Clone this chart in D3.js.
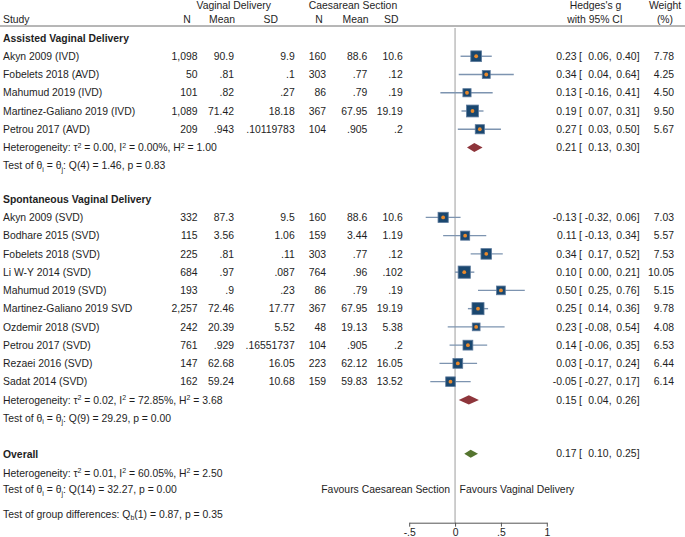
<!DOCTYPE html>
<html><head><meta charset="utf-8">
<script src="https://cdn.jsdelivr.net/npm/d3@7"></script>
<style>
body{margin:0;background:#fff}
svg{display:block}
text{font-family:"Liberation Sans",Arial,Helvetica,sans-serif;font-size:10.4px;fill:#1e1e1e}
</style>
</head><body><svg id="c" width="685" height="537"></svg>
<script>
// ---------------- DATA ----------------
const groupNames = ["Assisted Vaginal Delivery", "Spontaneous Vaginal Delivery"];
const groupSizes = [5, 10];
const studies = [
  "Akyn 2009 (IVD)", "Fobelets 2018 (AVD)", "Mahumud 2019 (IVD)", "Martinez-Galiano 2019 (IVD)", "Petrou 2017 (AVD)",
  "Akyn 2009 (SVD)", "Bodhare 2015 (SVD)", "Fobelets 2018 (SVD)", "Li W-Y 2014 (SVD)", "Mahumud 2019 (SVD)",
  "Martinez-Galiano 2019 SVD", "Ozdemir 2018 (SVD)", "Petrou 2017 (SVD)", "Rezaei 2016 (SVD)", "Sadat 2014 (SVD)"
];
const vagN    = [1098, 50, 101, 1089, 209, 332, 115, 225, 684, 193, 2257, 242, 761, 147, 162];
const vagMean = ["90.9", ".81", ".82", "71.42", ".943", "87.3", "3.56", ".81", ".97", ".9", "72.46", "20.39", ".929", "62.68", "59.24"];
const vagSD   = ["9.9", ".1", ".27", "18.18", ".10119783", "9.5", "1.06", ".11", ".087", ".23", "17.77", "5.52", ".16551737", "16.05", "10.68"];
const csN     = [160, 303, 86, 367, 104, 160, 159, 303, 764, 86, 367, 48, 104, 223, 159];
const csMean  = ["88.6", ".77", ".79", "67.95", ".905", "88.6", "3.44", ".77", ".96", ".79", "67.95", "19.13", ".905", "62.12", "59.83"];
const csSD    = ["10.6", ".12", ".19", "19.19", ".2", "10.6", "1.19", ".12", ".102", ".19", "19.19", "5.38", ".2", "16.05", "13.52"];
const hedgesG = [0.23, 0.34, 0.13, 0.19, 0.27, -0.13, 0.11, 0.34, 0.10, 0.50, 0.25, 0.23, 0.14, 0.03, -0.05];
const ciLow   = [0.06, 0.04, -0.16, 0.07, 0.03, -0.32, -0.13, 0.17, 0.00, 0.25, 0.14, -0.08, -0.06, -0.17, -0.27];
const ciHigh  = [0.40, 0.64, 0.41, 0.31, 0.50, 0.06, 0.34, 0.52, 0.21, 0.76, 0.36, 0.54, 0.35, 0.24, 0.17];
const weights = [7.78, 4.25, 4.50, 9.50, 5.67, 7.03, 5.57, 7.53, 10.05, 5.15, 9.78, 4.08, 6.53, 6.44, 6.14];

const groupG   = [0.21, 0.15];
const groupLow = [0.13, 0.04];
const groupHigh= [0.30, 0.26];
const groupTau2= ["0.00", "0.02"];
const groupI2  = ["0.00", "72.85"];
const groupH2  = ["1.00", "3.68"];
const groupDf  = [4, 9];
const groupQ   = ["1.46", "29.29"];
const groupP   = ["0.83", "0.00"];

const overallG = 0.17, overallLow = 0.10, overallHigh = 0.25;
const overallTau2 = "0.01", overallI2 = "60.05", overallH2 = "2.50";
const overallDf = 14, overallQ = "32.27", overallP = "0.00";
const groupDiffDf = 1, groupDiffQ = "0.87", groupDiffP = "0.35";

const tickValues = [-0.5, 0, 0.5, 1];
const tickLabels = ["-.5", "0", ".5", "1"];
const favoursLeft = "Favours Caesarean Section";
const favoursRight = "Favours Vaginal Delivery";

// ---------------- LAYOUT ----------------
const svg = d3.select("#c");
const colors = {navy:"#1a476f", ci:"#7d94b0", dot:"#e8892b", maroon:"#8e353b", green:"#55752f", zero:"#c9c9c9", text:"#1e1e1e"};
const x = d3.scaleLinear().domain([-0.5, 1]).range([409.2, 546.8]);
const y = d3.scaleLinear().domain([0, 1]).range([38, 56.25]);
const axisY = 522.7;
const base = 3.7; // baseline offset from row centre
const side = d3.scaleSqrt().domain([0, d3.max(weights)]).range([0, 3.85 * Math.sqrt(d3.max(weights))]);

const fmt2 = v => (v < 0 ? "-" : "") + Math.abs(v).toFixed(2);
const fmtN = d3.format(",");

// row indices
const headerRow = [], studyRow = [], sumRow = [], testRow = [];
let cursor = 0;
groupSizes.forEach(n => {
  headerRow.push(cursor); cursor += 1;
  for (let k = 0; k < n; k++) { studyRow.push(cursor); cursor += 1; }
  sumRow.push(cursor); cursor += 1;
  testRow.push(cursor); cursor += 1.83;
});
const overallRow = testRow[1] + 2;
const overallHetRow = overallRow + 1;
const overallTestRow = overallRow + 1.92;
const groupDiffRow = overallRow + 3.27;

function txt(xp, yc, s, anchor, weight) {
  return svg.append("text").attr("x", xp).attr("y", yc + base)
    .attr("text-anchor", anchor || "start")
    .style("font-weight", weight || "normal").text(s);
}
function rich(xp, yc, parts) {
  const t = svg.append("text").attr("x", xp).attr("y", yc + base);
  let off = 0;
  parts.forEach(([s, mode]) => {
    const target = mode === "sup" ? -3.6 : mode === "sub" ? 2.2 : 0;
    const sp = t.append("tspan").attr("dy", target - off).text(s);
    if (mode) sp.style("font-size", "7px");
    off = target;
  });
  return t;
}

// header
txt(233.7, 4.8, "Vaginal Delivery", "middle");
txt(353, 4.8, "Caesarean Section", "middle");
txt(595.5, 4.8, "Hedges's g", "middle");
txt(665, 4.8, "Weight", "middle");
txt(3, 19.3, "Study");
txt(187, 19.3, "N", "middle");
txt(222, 19.3, "Mean", "middle");
txt(270.7, 19.3, "SD", "middle");
txt(319, 19.3, "N", "middle");
txt(355.5, 19.3, "Mean", "middle");
txt(391.3, 19.3, "SD", "middle");
txt(595, 19.3, "with 95% CI", "middle");
txt(665, 19.3, "(%)", "middle");
svg.append("line").attr("x1", 0).attr("x2", 685).attr("y1", 26).attr("y2", 26)
  .attr("stroke", "#6e6e6e").attr("stroke-width", 1);

// zero line
svg.append("line").attr("x1", x(0)).attr("x2", x(0)).attr("y1", 28).attr("y2", axisY)
  .attr("stroke", colors.zero).attr("stroke-width", 1.8);

// CI text helper
function ciText(yc, g, lo, hi, w) {
  txt(576.5, yc, fmt2(g), "end");
  txt(579, yc, "[");
  txt(608.5, yc, fmt2(lo), "end");
  txt(608.7, yc, ",");
  txt(636.6, yc, fmt2(hi), "end");
  txt(636.8, yc, "]");
  if (w !== undefined) txt(674, yc, w.toFixed(2), "end");
}

// group headers
groupNames.forEach((gname, gi) => txt(3, y(headerRow[gi]), gname, "start", "bold"));

// studies
studies.forEach((s, i) => {
  const yc = y(studyRow[i]);
  txt(3, yc, s);
  txt(197.5, yc, fmtN(vagN[i]), "end");
  txt(234, yc, vagMean[i], "end");
  txt(294.7, yc, vagSD[i], "end");
  txt(326, yc, fmtN(csN[i]), "end");
  txt(367.3, yc, csMean[i], "end");
  txt(402.7, yc, csSD[i], "end");
  ciText(yc, hedgesG[i], ciLow[i], ciHigh[i], weights[i]);
  svg.append("line").attr("x1", x(ciLow[i])).attr("x2", x(ciHigh[i])).attr("y1", yc).attr("y2", yc)
    .attr("stroke", colors.ci).attr("stroke-width", 1.4);
  const sz = side(weights[i]);
  svg.append("rect").attr("x", x(hedgesG[i]) - sz / 2).attr("y", yc - sz / 2)
    .attr("width", sz).attr("height", sz)
    .attr("fill", colors.navy).attr("stroke", "#5d7a9c").attr("stroke-width", 0.8);
  svg.append("circle").attr("cx", x(hedgesG[i])).attr("cy", yc).attr("r", 1.9).attr("fill", colors.dot);
});

function diamond(yc, g, lo, hi, h, fill) {
  const pts = [[x(lo), yc], [x(g), yc - h], [x(hi), yc], [x(g), yc + h]];
  svg.append("path").attr("d", d3.line()(pts) + "Z").attr("fill", fill);
}

// subgroup summaries
groupNames.forEach((gname, gi) => {
  const yc = y(sumRow[gi]);
  diamond(yc, groupG[gi], groupLow[gi], groupHigh[gi], 4.6, colors.maroon);
  ciText(yc, groupG[gi], groupLow[gi], groupHigh[gi]);
  rich(3, yc, [["Heterogeneity: \u03C4"], ["2", "sup"], [" = " + groupTau2[gi] + ", I"], ["2", "sup"],
    [" = " + groupI2[gi] + "%, H"], ["2", "sup"], [" = " + groupH2[gi]]]);
  rich(3, y(testRow[gi]), [["Test of \u03B8"], ["i", "sub"], [" = \u03B8"], ["j", "sub"],
    [": Q(" + groupDf[gi] + ") = " + groupQ[gi] + ", p = " + groupP[gi]]]);
});

// overall
const yo = y(overallRow);
txt(3, yo, "Overall", "start", "bold");
diamond(yo - 1, overallG, overallLow, overallHigh, 4.0, colors.green);
ciText(yo - 1, overallG, overallLow, overallHigh);
rich(3, y(overallHetRow), [["Heterogeneity: \u03C4"], ["2", "sup"], [" = " + overallTau2 + ", I"], ["2", "sup"],
  [" = " + overallI2 + "%, H"], ["2", "sup"], [" = " + overallH2]]);
rich(3, y(overallTestRow), [["Test of \u03B8"], ["i", "sub"], [" = \u03B8"], ["j", "sub"],
  [": Q(" + overallDf + ") = " + overallQ + ", p = " + overallP]]);
rich(3, y(groupDiffRow), [["Test of group differences: Q"], ["b", "sub"],
  ["(" + groupDiffDf + ") = " + groupDiffQ + ", p = " + groupDiffP]]);

// favours labels
txt(x(0) - 5, y(overallTestRow), favoursLeft, "end");
txt(x(0) + 4.5, y(overallTestRow), favoursRight, "start");

// axis
const axis = d3.axisBottom(x).tickValues(tickValues)
  .tickFormat((d, i) => tickLabels[i]).tickSize(4).tickSizeOuter(0).tickPadding(1.5);
const ga = svg.append("g").attr("transform", `translate(0,${axisY})`).call(axis);
ga.select(".domain").attr("stroke", "#555");
ga.selectAll(".tick line").attr("stroke", "#555");
ga.selectAll(".tick text").style("font-family", '"Liberation Sans",Arial,sans-serif')
  .style("font-size", "10.4px").attr("fill", colors.text);
</script>
</body></html>
